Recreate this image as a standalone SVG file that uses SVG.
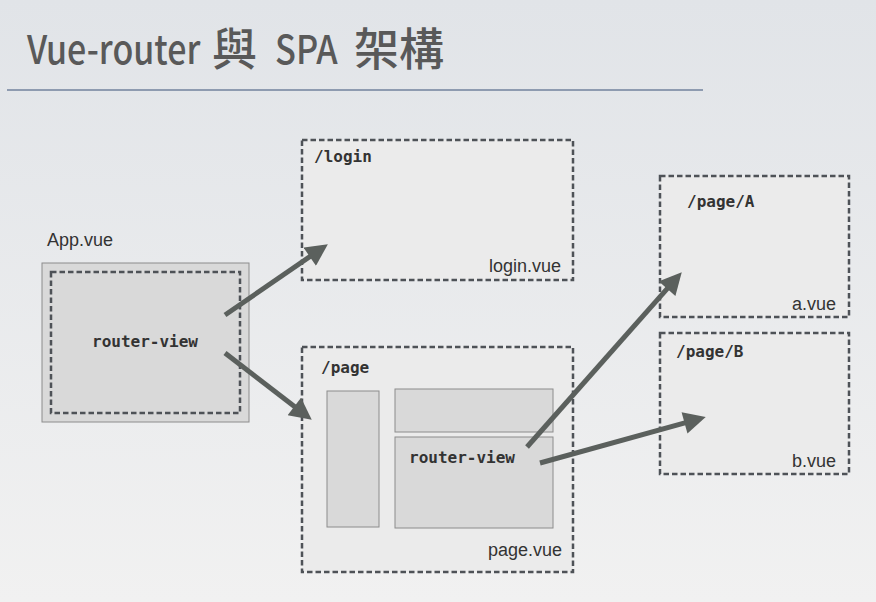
<svg xmlns="http://www.w3.org/2000/svg" width="876" height="602" viewBox="0 0 876 602">
<defs>
<linearGradient id="bg" x1="0" y1="0" x2="0" y2="1">
<stop offset="0" stop-color="#e1e4e8"/>
<stop offset="1" stop-color="#f1f1f1"/>
</linearGradient>
<marker id="ah" viewBox="0 0 10 10" refX="4" refY="5" markerWidth="4.6" markerHeight="4.4" markerUnits="strokeWidth" orient="auto">
<path d="M0,0 L10,5 L0,10 z" fill="#5b605d"/>
</marker>
</defs>
<style>
.route{fill:#ebebeb;stroke:#4e5257;stroke-width:2.5;stroke-dasharray:5.5 3}
.solid{fill:#d9d9d9;stroke:#8c8c8c;stroke-width:1}
.mono{font-family:"DejaVu Sans Mono","Liberation Mono",monospace;font-size:16px;font-weight:bold;fill:#333}
.lbl{font-family:"Liberation Sans",Arial,sans-serif;font-size:18px;fill:#333}
.title{font-family:"Noto Sans CJK TC","Noto Sans",sans-serif;font-size:40px;font-weight:500;fill:#595959}
.cjk{font-size:45px}
.conn line{stroke:#5b605d;stroke-width:5;marker-end:url(#ah)}
</style>
<rect width="876" height="602" fill="url(#bg)"/>
<g id="title">
<text class="title" transform="translate(27,64) scale(0.85,1)">Vue-router</text>
<text class="title cjk" x="212" y="66">與</text>
<text class="title" transform="translate(275,64) scale(0.86,1)">SPA</text>
<text class="title cjk" x="354" y="66">架構</text>
<line x1="7" y1="90" x2="703" y2="90" stroke="#8e9bb0" stroke-width="2"/>
</g>
<g id="app">
<text class="lbl" x="47" y="246">App.vue</text>
<rect class="solid" x="42" y="263" width="207" height="159"/>
<rect x="51" y="272" width="189" height="141" fill="none" stroke="#4e5257" stroke-width="2.5" stroke-dasharray="5.5 3"/>
<text class="mono" x="145" y="347" text-anchor="middle">router-view</text>
</g>
<g id="login">
<rect class="route" x="302" y="140" width="271" height="140"/>
<text class="mono" x="314" y="162">/login</text>
<text class="lbl" x="561" y="272" text-anchor="end">login.vue</text>
</g>
<g id="page">
<rect class="route" x="302" y="347" width="271" height="225"/>
<text class="mono" x="321" y="373">/page</text>
<rect class="solid" x="327" y="391" width="52" height="136"/>
<rect class="solid" x="395" y="389" width="158" height="43"/>
<rect class="solid" x="395" y="437" width="158" height="91"/>
<text class="mono" x="409" y="463">router-view</text>
<text class="lbl" x="562" y="556" text-anchor="end">page.vue</text>
</g>
<g id="pageA">
<rect class="route" x="660" y="176" width="189" height="141"/>
<text class="mono" x="687" y="207">/page/A</text>
<text class="lbl" x="836" y="310" text-anchor="end">a.vue</text>
</g>
<g id="pageB">
<rect class="route" x="660" y="333" width="189" height="141"/>
<text class="mono" x="676" y="357">/page/B</text>
<text class="lbl" x="836" y="467" text-anchor="end">b.vue</text>
</g>
<g id="connectors" class="conn">
<line x1="225" y1="315" x2="317" y2="251.7"/>
<line x1="225" y1="353" x2="301.3" y2="411.8"/>
<line x1="527" y1="447" x2="673" y2="282.1"/>
<line x1="540" y1="463" x2="693" y2="420.6"/>
</g>
</svg>
